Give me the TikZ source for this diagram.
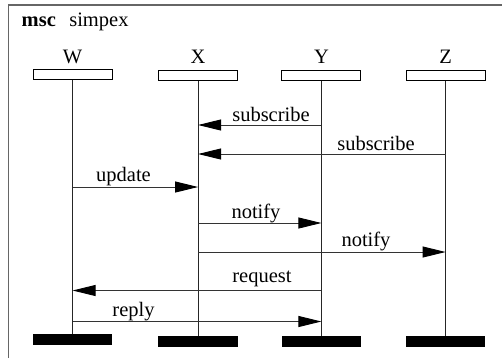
\documentclass[tikz,border=0pt]{standalone}
\usepackage{fontspec}
\setmainfont{Liberation Serif}
\usetikzlibrary{arrows.meta}
\begin{document}
\begin{tikzpicture}[x=1bp,y=-1bp,
  every node/.style={font=\fontsize{20.5bp}{24bp}\selectfont, inner sep=0pt, outer sep=0pt},
  headbox/.style={draw=black, line width=0.9bp, fill=white, minimum width=79bp, minimum height=10bp},
  endbar/.style={fill=black, minimum width=79.5bp, minimum height=11bp},
  lifeline/.style={line width=0.9bp, draw=black!85},
  msg/.style={line width=0.9bp, draw=black!80, -{Triangle[length=23bp,width=11bp,color=black,fill=black]}},
  lbl/.style={anchor=base},
  frameline/.style={draw=black!60, line width=1.3bp}]
\useasboundingbox (0,0) rectangle (502,358);
% frame
\draw[frameline] (8.5,358) -- (8.5,5) -- (502,5);
\node[anchor=base west] (mscA) at (21.7,26) {\textbf{msc}};
\node[anchor=base west] (mscB) at (69.3,26) {simpex};
% instance heads
\node[headbox] (Wh) at (72.6,74.5) {};
\node[headbox] (Xh) at (198.1,75.8) {};
\node[headbox] (Yh) at (321.4,75.8) {};
\node[headbox] (Zh) at (445.6,75.8) {};
\node[lbl] (Wl) at (72.6,63.3) {W};
\node[lbl] (Xl) at (198.1,63.3) {X};
\node[lbl] (Yl) at (321.4,63.3) {Y};
\node[lbl] (Zl) at (445.6,63.3) {Z};
% end bars
\node[endbar] (We) at (72.6,339.5) {};
\node[endbar] (Xe) at (198.1,341.4) {};
\node[endbar] (Ye) at (321.4,341.4) {};
\node[endbar] (Ze) at (445.6,341.4) {};
% lifelines
\draw[lifeline] (Wh.south) -- (We.north);
\draw[lifeline] (Xh.south) -- (Xe.north);
\draw[lifeline] (Yh.south) -- (Ye.north);
\draw[lifeline] (Zh.south) -- (Ze.north);
% messages
\draw[msg] (Yh.south |- 0,125) -- (Xh.south |- 0,125);
\node[lbl] (l1) at (271,121) {subscribe};
\draw[msg] (Zh.south |- 0,154) -- (Xh.south |- 0,154);
\node[lbl] (l2) at (376,150) {subscribe};
\draw[msg] (Wh.south |- 0,187) -- (Xh.south |- 0,187);
\node[lbl] (l3) at (123.5,181.3) {update};
\draw[msg] (Xh.south |- 0,223) -- (Yh.south |- 0,223);
\node[lbl] (l4) at (256,218) {notify};
\draw[msg] (Xh.south |- 0,252) -- (Zh.south |- 0,252);
\node[lbl] (l5) at (366,246.5) {notify};
\draw[msg] (Yh.south |- 0,290.5) -- (Wh.south |- 0,290.5);
\node[lbl] (l6) at (262,282.5) {request};
\draw[msg] (Wh.south |- 0,321.5) -- (Yh.south |- 0,321.5);
\node[lbl] (l7) at (133.5,316) {reply};
\end{tikzpicture}
\end{document}
